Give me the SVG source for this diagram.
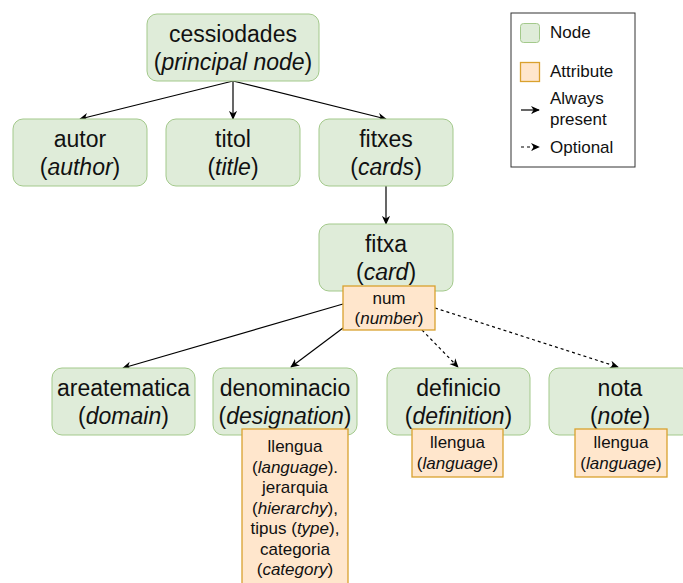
<svg xmlns="http://www.w3.org/2000/svg" width="683" height="583" viewBox="0 0 683 583">
  <defs>
    <marker id="arr" viewBox="0 0 10 10" refX="9" refY="5" markerWidth="9" markerHeight="9" markerUnits="userSpaceOnUse" orient="auto">
      <path d="M0,0.5 L10,5 L0,9.5 L3,5 Z" fill="#000"/>
    </marker>
    <style>
      .node rect { fill: #dfecd9; stroke: #a3c98b; stroke-width: 1; }
      .attr rect { fill: #ffe6cc; stroke: #d9a12e; stroke-width: 1.3; }
      text { font-family: "Liberation Sans", Arial, sans-serif; fill: #111; text-anchor: middle; }
      .node text { font-size: 23px; }
      .attr text { font-size: 17px; }
      .legend text { font-size: 17px; text-anchor: start; }
      .edge { stroke: #000; stroke-width: 1.2; fill: none; marker-end: url(#arr); }
      .opt { stroke-dasharray: 3 3; }
      .i { font-style: italic; }
    </style>
  </defs>

  <!-- connectors -->
  <g id="connectors">
    <line class="edge" x1="233" y1="81" x2="80" y2="119"/>
    <line class="edge" x1="233" y1="81" x2="233" y2="119"/>
    <line class="edge" x1="233" y1="81" x2="386" y2="119"/>
    <line class="edge" x1="386" y1="186" x2="386" y2="224"/>
    <line class="edge" x1="343" y1="304" x2="123" y2="368"/>
    <line class="edge" x1="343" y1="328" x2="291" y2="367"/>
    <line class="edge opt" x1="422" y1="330" x2="458" y2="367"/>
    <line class="edge opt" x1="435" y1="308" x2="618" y2="367"/>
  </g>

  <g id="cessiodades" class="node">
    <rect x="147" y="14" width="172" height="67" rx="10"/>
    <text x="233" y="42">cessiodades</text>
    <text x="233" y="70">(<tspan class="i">principal node</tspan>)</text>
  </g>

  <g id="autor" class="node">
    <rect x="13" y="119" width="134" height="67" rx="10"/>
    <text x="80" y="147">autor</text>
    <text x="80" y="175">(<tspan class="i">author</tspan>)</text>
  </g>

  <g id="titol" class="node">
    <rect x="166" y="119" width="134" height="67" rx="10"/>
    <text x="233" y="147">titol</text>
    <text x="233" y="175">(<tspan class="i">title</tspan>)</text>
  </g>

  <g id="fitxes" class="node">
    <rect x="319" y="119" width="134" height="67" rx="10"/>
    <text x="386" y="147">fitxes</text>
    <text x="386" y="175">(<tspan class="i">cards</tspan>)</text>
  </g>

  <g id="fitxa" class="node">
    <rect x="319" y="224" width="134" height="67" rx="10"/>
    <text x="386" y="252">fitxa</text>
    <text x="386" y="280">(<tspan class="i">card</tspan>)</text>
  </g>

  <g id="num" class="attr">
    <rect x="343" y="286" width="92" height="44"/>
    <text x="389" y="304">num</text>
    <text x="389" y="324">(<tspan class="i">number</tspan>)</text>
  </g>

  <g id="areatematica" class="node">
    <rect x="52" y="368" width="143" height="67" rx="10"/>
    <text x="123.5" y="396">areatematica</text>
    <text x="123.5" y="424">(<tspan class="i">domain</tspan>)</text>
  </g>

  <g id="denominacio" class="node">
    <rect x="213" y="368" width="144" height="67" rx="10"/>
    <text x="285" y="396">denominacio</text>
    <text x="285" y="424">(<tspan class="i">designation</tspan>)</text>
  </g>

  <g id="definicio" class="node">
    <rect x="387" y="368" width="143" height="67" rx="10"/>
    <text x="458.5" y="396">definicio</text>
    <text x="458.5" y="424">(<tspan class="i">definition</tspan>)</text>
  </g>

  <g id="nota" class="node">
    <rect x="549" y="368" width="143" height="67" rx="10"/>
    <text x="620" y="396">nota</text>
    <text x="620" y="424">(<tspan class="i">note</tspan>)</text>
  </g>

  <g id="denominacio-attrs" class="attr">
    <rect x="242" y="429" width="106" height="165"/>
    <text x="295" y="452">llengua</text>
    <text x="295" y="473">(<tspan class="i">language</tspan>).</text>
    <text x="295" y="493">jerarquia</text>
    <text x="295" y="514">(<tspan class="i">hierarchy</tspan>),</text>
    <text x="295" y="534">tipus (<tspan class="i">type</tspan>),</text>
    <text x="295" y="555">categoria</text>
    <text x="295" y="575">(<tspan class="i">category</tspan>)</text>
  </g>

  <g id="definicio-attrs" class="attr">
    <rect x="412" y="429" width="91" height="48"/>
    <text x="457.5" y="448">llengua</text>
    <text x="457.5" y="469">(<tspan class="i">language</tspan>)</text>
  </g>

  <g id="nota-attrs" class="attr">
    <rect x="575" y="429" width="92" height="48"/>
    <text x="621" y="448">llengua</text>
    <text x="621" y="469">(<tspan class="i">language</tspan>)</text>
  </g>

  <!-- legend -->
  <g id="legend" class="legend">
    <rect x="511" y="13" width="124" height="154" fill="#fff" stroke="#333" stroke-width="1"/>
    <rect x="520.5" y="23.5" width="19" height="19" rx="3" fill="#dfecd9" stroke="#a3c98b"/>
    <text x="550" y="38">Node</text>
    <rect x="520.5" y="62.5" width="19" height="19" fill="#ffe6cc" stroke="#d9a12e" stroke-width="1.3"/>
    <text x="550" y="77">Attribute</text>
    <line class="edge" x1="521" y1="110" x2="539" y2="110"/>
    <text x="550" y="104">Always</text>
    <text x="550" y="125">present</text>
    <line class="edge opt" x1="521" y1="147" x2="539" y2="147"/>
    <text x="550" y="153">Optional</text>
  </g>
</svg>
